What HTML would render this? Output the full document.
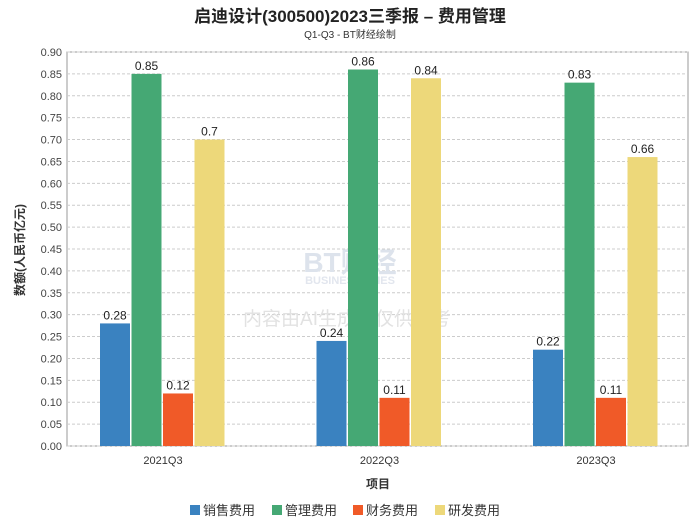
<!DOCTYPE html>
<html><head><meta charset="utf-8"><style>
body{margin:0;background:#fff;font-family:"Liberation Sans","Noto Sans CJK SC",sans-serif;}
svg text{font-family:"Liberation Sans","Noto Sans CJK SC",sans-serif;}
</style></head><body>
<svg id="c" width="700" height="524" xmlns="http://www.w3.org/2000/svg">
<text x="350" y="22" text-anchor="middle" font-size="17" font-weight="bold" fill="#222">启迪设计(300500)2023三季报 – 费用管理</text>
<text x="350" y="38" text-anchor="middle" font-size="10" fill="#333">Q1-Q3 - BT财经绘制</text>
<g id="plot"></g>
<text x="350" y="272" text-anchor="middle" font-size="28" font-weight="bold" fill="#dde3ec">BT财经</text>
<text x="350" y="284" text-anchor="middle" font-size="11" font-weight="bold" fill="#e2e6ee">BUSINESSTIMES</text>
<text x="347" y="325" text-anchor="middle" font-size="19" fill="#e2e2e2">内容由AI生成，仅供参考</text>
<g id="bars"></g>
<text x="378" y="488" text-anchor="middle" font-size="12" font-weight="bold" fill="#333">项目</text>
<text transform="translate(24,250) rotate(-90)" text-anchor="middle" font-size="12" font-weight="bold" fill="#333">数额(人民币亿元)</text>
<g id="legend"></g>
</svg>
<script>
const categories=["2021Q3","2022Q3","2023Q3"];
const seriesNames=["销售费用","管理费用","财务费用","研发费用"];
const sales=[0.28,0.24,0.22];
const admin=[0.85,0.86,0.83];
const finance=[0.12,0.11,0.11];
const rnd=[0.7,0.84,0.66];
const yTicks=[0,0.05,0.1,0.15,0.2,0.25,0.3,0.35,0.4,0.45,0.5,0.55,0.6,0.65,0.7,0.75,0.8,0.85,0.9];
const colors=["#3a82c0","#45a874","#f05a28","#edd87a"];
const NS="http://www.w3.org/2000/svg";
const L=67,R=688,T=52,B=446;
const y=v=>B-(v/0.9)*(B-T);
const xc=i=>163+i*216.5;
const plot=document.getElementById('plot');
const bars=document.getElementById('bars');
function mk(tag,attrs,parent){const e=document.createElementNS(NS,tag);for(const k in attrs)e.setAttribute(k,attrs[k]);parent.appendChild(e);return e;}
const bg=mk('rect',{x:L,y:T,width:R-L,height:B-T,fill:'#fff',stroke:'#999'},plot);


yTicks.forEach(t=>{
  const g=mk('line',{x1:L,x2:R,y1:y(t),y2:y(t),stroke:'#ccc','stroke-dasharray':'3,2'},plot);
  
  
  const tx=mk('text',{x:L-5,y:y(t)+4,'text-anchor':'end','font-size':11,fill:'#444'},plot);
  tx.textContent=t.toFixed(2);
  
  
});
const all=[sales,admin,finance,rnd];
categories.forEach((c,i)=>{
  all.forEach((s,j)=>{
    const x=xc(i)-63+j*31.5;
    const r=mk('rect',{x:x,y:y(s[i]),width:30,height:B-y(s[i]),fill:colors[j]},bars);
    
    
    const lb=mk('text',{x:x+15,y:y(s[i])-4,'text-anchor':'middle','font-size':12,fill:'#222'},bars);
    lb.textContent=String(s[i]);
    
    
  });
  const tx=mk('text',{x:xc(i),y:B+18,'text-anchor':'middle','font-size':11,fill:'#333'},bars);
  tx.textContent=c;
  
  
});
const leg=document.getElementById('legend');
const lx=[190,272,353,435];
seriesNames.forEach((n,j)=>{
  const r=mk('rect',{x:lx[j],y:505,width:10,height:10,fill:colors[j]},leg);
  
  
  const t=mk('text',{x:lx[j]+13,y:515,'font-size':13,fill:'#333'},leg);
  t.textContent=n;
  
  
});
</script>
</body></html>
